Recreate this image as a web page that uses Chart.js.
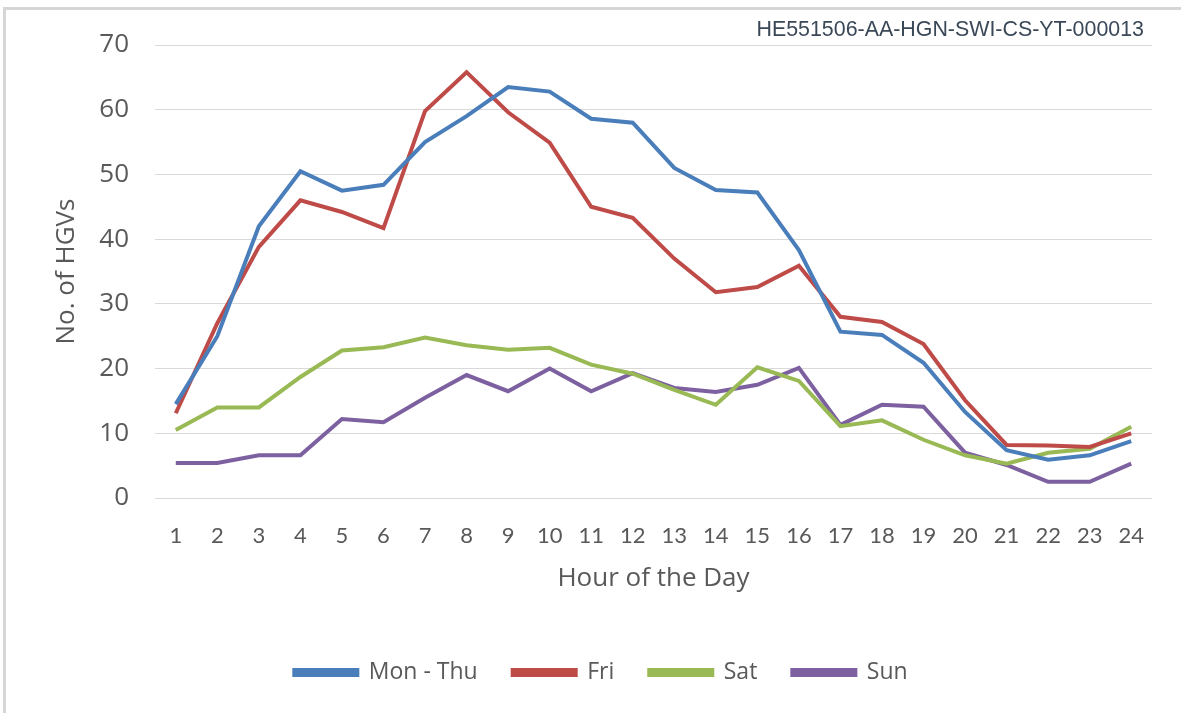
<!DOCTYPE html>
<html>
<head>
<meta charset="utf-8">
<script src="https://cdn.jsdelivr.net/npm/chart.js@4.4.1/dist/chart.umd.min.js"></script>
<style>
  html, body { margin: 0; padding: 0; background: #fff; }
  #wrap { position: relative; width: 1181px; height: 713px; overflow: hidden; }
  #frame { position: absolute; left: 3px; top: 7px; width: 1190px; height: 720px;
    border-left: 3px solid #d6d6d6; border-top: 3px solid #d6d6d6; box-sizing: border-box; }
  #docref { position: absolute; right: 37px; top: 17px; font-family: "Liberation Sans", Arial, sans-serif;
    font-size: 21.4px; color: #3a4858; }
  canvas { position: absolute; left: 0; top: 0; }
</style>
</head>
<body>
<div id="wrap">
  <div id="frame"></div>
  <canvas id="hgvChart" width="1181" height="713"></canvas>
  <div id="docref">HE551506-AA-HGN-SWI-CS-YT-000013</div>
</div>
<script>
const hours = ["1","2","3","4","5","6","7","8","9","10","11","12","13","14","15","16","17","18","19","20","21","22","23","24"]
const monThu = [14.5,25,42,50.5,47.5,48.4,55,59,63.5,62.8,58.6,58,51,47.6,47.2,38.3,25.7,25.2,20.9,13.3,7.4,5.9,6.6,8.8]
const fri = [13.1,27,38.8,46,44.2,41.7,59.8,65.8,59.6,54.9,45,43.3,37,31.8,32.6,35.9,28,27.2,23.8,15.1,8.2,8.1,7.9,10]
const sat = [10.5,14,14,18.7,22.8,23.3,24.8,23.6,22.9,23.2,20.6,19.2,16.7,14.4,20.2,18.1,11.1,12,9,6.6,5.3,7,7.6,11]
const sun = [5.4,5.4,6.6,6.6,12.2,11.7,15.5,19,16.5,20,16.5,19.3,17,16.4,17.5,20.1,11.3,14.4,14.1,7,5.1,2.5,2.5,5.3]

const seriesNames = ["Mon - Thu", "Fri", "Sat", "Sun"]
const seriesColors = ["#4a7ebb", "#be4b48", "#98b954", "#7d60a0"]

const plotTop = 45
const plotBottom = 498
const plotLeft = 155
const padBottom = 19

function makeSet(name, values, color){
  return {
    label: name,
    data: values,
    borderColor: color,
    backgroundColor: color,
    borderWidth: 4,
    pointRadius: 0,
    pointHoverRadius: 0,
    tension: 0,
    fill: false
  }
}

// nudge the legend row sideways, the source is not centred on the canvas
const legendShift = {
  id: "legendShift",
  afterLayout(chart){
    chart.legend.left += 50
  }
}

const canvas = document.getElementById("hgvChart")

new Chart(canvas, {
  type: "line",
  data: {
    labels: hours,
    datasets: [
      makeSet(seriesNames[0], monThu, seriesColors[0]),
      makeSet(seriesNames[1], fri, seriesColors[1]),
      makeSet(seriesNames[2], sat, seriesColors[2]),
      makeSet(seriesNames[3], sun, seriesColors[3])
    ]
  },
  plugins: [legendShift],
  options: {
    responsive: false,
    animation: false,
    layout: {
      padding: { top: plotTop, right: 29, bottom: padBottom, left: 0 }
    },
    plugins: {
      tooltip: { enabled: false },
      legend: {
        position: "bottom",
        labels: {
          boxWidth: 63,
          boxHeight: 5,
          padding: 35,
          color: "#595959",
          font: { family: "'Open Sans', sans-serif", size: 23 }
        }
      }
    },
    scales: {
      x: {
        offset: true,
        grid: { display: false },
        border: { display: false },
        ticks: {
          color: "#595959",
          padding: 17,
          maxRotation: 0,
          autoSkip: false,
          font: { family: "Lato, 'Open Sans', sans-serif", size: 22 }
        },
        title: {
          display: true,
          text: "Hour of the Day",
          color: "#595959",
          padding: { top: 0, bottom: 32 },
          font: { family: "'Open Sans', sans-serif", size: 26 }
        },
        afterFit: (scale) => {
          scale.height = 713 - plotBottom - padBottom - scale.chart.legend.height
        }
      },
      y: {
        min: 0,
        max: 70,
        grid: { color: "#d9d9d9", lineWidth: 1, drawTicks: false },
        border: { display: false },
        ticks: {
          stepSize: 10,
          color: "#595959",
          padding: 26,
          font: { family: "'Open Sans', sans-serif", size: 26 }
        },
        title: {
          display: true,
          text: "No. of HGVs",
          color: "#595959",
          padding: { top: 51, bottom: 0 },
          font: { family: "'Open Sans', sans-serif", size: 26 }
        },
        afterFit: (scale) => {
          scale.width = plotLeft
        }
      }
    }
  }
})
</script>
</body>
</html>
